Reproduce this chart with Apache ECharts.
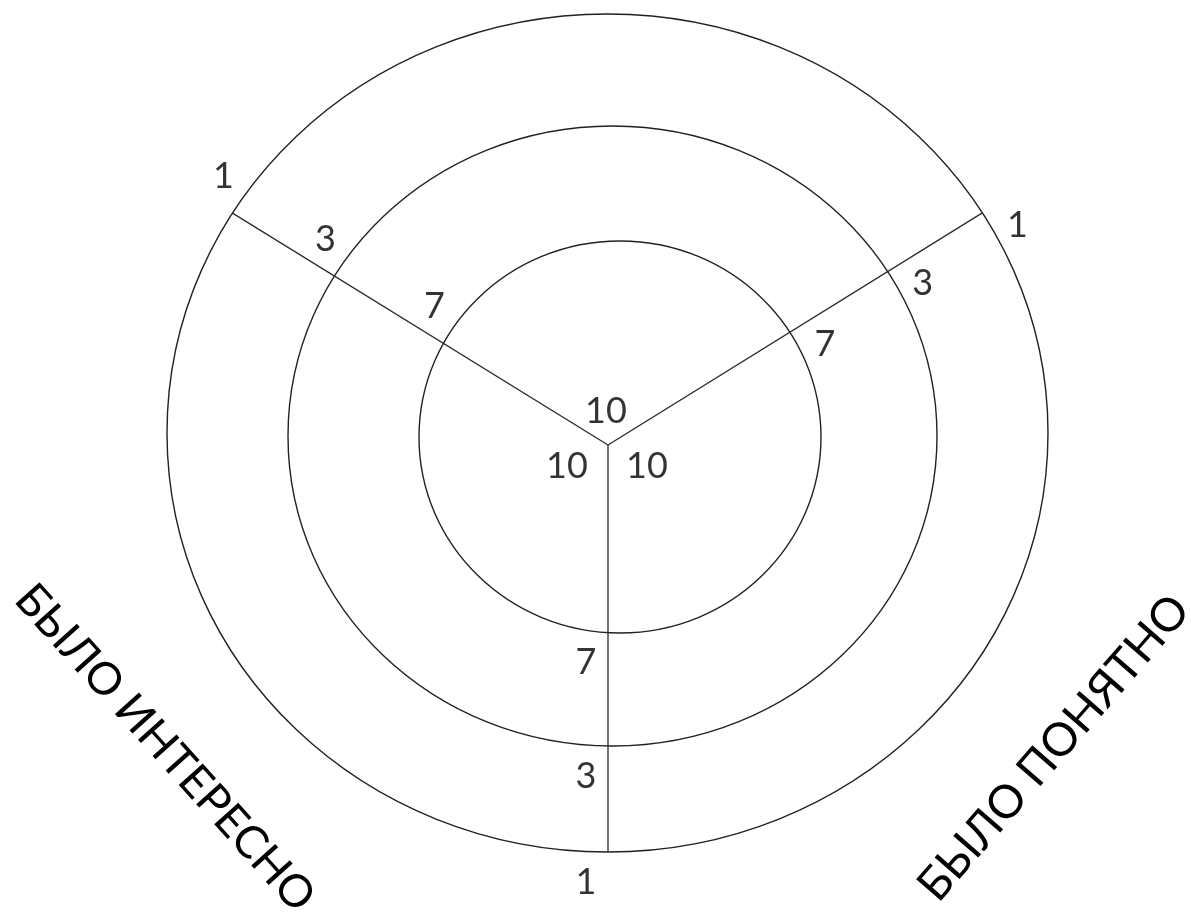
<!DOCTYPE html>
<html>
<head>
<meta charset="utf-8">
<script src="https://cdn.jsdelivr.net/npm/echarts@6/dist/echarts.min.js"></script>
<style>
    html, body {margin: 0; padding: 0; background: #fff;}
    #main {width: 1191px; height: 917px;}
</style>
</head>
<body>
<div id="main"></div>
<script>
// scores: centre is 10, rings are 7, 3, 1 (outer)
var centerScore = 10;
var ringScores = [7, 3, 1];
// ring ellipses, in units around the hub (y up)
var ringCenterX = [12, 4.5, -0.5];
var ringCenterY = [8, 9, 12];
var ringRadiusX = [201, 324.5, 440.5];
var ringRadiusY = [196, 310, 419];
// three spokes (degrees, 0 = right, counter-clockwise)
var spokeAngles = [148.3, 31.8, 270];
var axisTitles = ['БЫЛО ИНТЕРЕСНО', 'БЫЛО ПОНЯТНО'];

var chart = echarts.init(document.getElementById('main'));

//交点：从中心出发的射线与椭圆
function hitRing(angle, i) {
    var a = angle * Math.PI / 180;
    var dx = Math.cos(a), dy = Math.sin(a);
    var cx = ringCenterX[i], cy = ringCenterY[i], rx = ringRadiusX[i], ry = ringRadiusY[i];
    var A = dx * dx / (rx * rx) + dy * dy / (ry * ry);
    var B = -2 * (dx * cx / (rx * rx) + dy * cy / (ry * ry));
    var C = cx * cx / (rx * rx) + cy * cy / (ry * ry) - 1;
    var t = (-B + Math.sqrt(B * B - 4 * A * C)) / (2 * A);
    return [t * dx, t * dy];
}

var ringData = ringScores.map(function (s, i) {
    return [ringCenterX[i], ringCenterY[i], ringRadiusX[i], ringRadiusY[i], s];
});

var spokeSeries = spokeAngles.map(function (ang) {
    return {
        type: 'line',
        data: [[0, 0], hitRing(ang, ringScores.length - 1)],
        symbol: 'none',
        silent: true,
        lineStyle: {color: '#2a2a2a', width: 1.3}
    };
});

var labelOffsets = [[-9, -37], [35, 12], [-22, 30]];
var hubOffsets = [[-2, -34], [39, 21], [-41, 21]];

var labelSeries = spokeAngles.map(function (ang, k) {
    var pts = [{value: [0, 0, centerScore], label: {offset: hubOffsets[k]}}];
    ringScores.forEach(function (s, i) {
        var p = hitRing(ang, i);
        pts.push({value: [p[0], p[1], s]});
    });
    return {
        type: 'scatter',
        data: pts,
        symbolSize: 0,
        silent: true,
        label: {
            show: true,
            position: 'inside',
            offset: labelOffsets[k],
            fontFamily: 'Lato',
            fontSize: 36,
            color: '#000',
            formatter: function (p) { return p.value[2]; }
        }
    };
});

var option = {
    animation: false,
    grid: {left: 0, right: 0, top: 0, bottom: 0},
    xAxis: {type: 'value', min: -608, max: 583, show: false},
    yAxis: {type: 'value', min: -472, max: 445, show: false},
    graphic: [
        {
            type: 'text', x: 165, y: 748, rotation: -48 * Math.PI / 180,
            style: {text: axisTitles[0], font: '45px Lato', fill: '#000', textAlign: 'center', textVerticalAlign: 'middle'}
        },
        {
            type: 'text', x: 1054, y: 748, rotation: 49 * Math.PI / 180,
            style: {text: axisTitles[1], font: '46px Lato', fill: '#000', textAlign: 'center', textVerticalAlign: 'middle'}
        }
    ],
    series: [{
        type: 'custom',
        data: ringData,
        silent: true,
        renderItem: function (params, api) {
            var c = api.coord([api.value(0), api.value(1)]);
            var r = api.size([api.value(2), api.value(3)]);
            return {
                type: 'ellipse',
                shape: {cx: c[0], cy: c[1], rx: r[0], ry: r[1]},
                style: {fill: 'none', stroke: '#222', lineWidth: 1.4}
            };
        }
    }].concat(spokeSeries).concat(labelSeries)
};

chart.setOption(option);
</script>
</body>
</html>
